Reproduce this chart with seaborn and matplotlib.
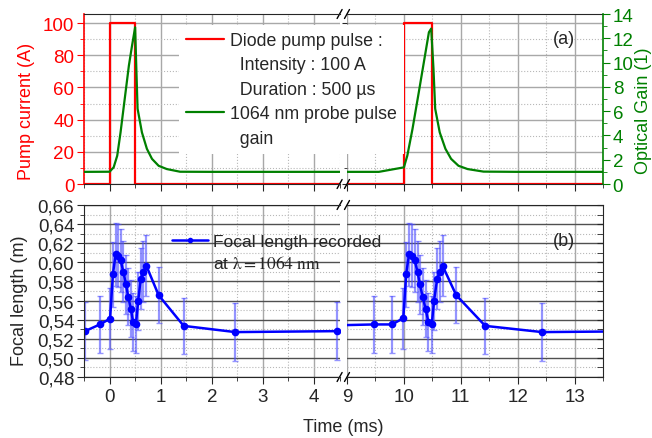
import matplotlib
matplotlib.use("Agg")
import matplotlib.pyplot as plt
from matplotlib.ticker import MultipleLocator, FuncFormatter, FixedLocator
from matplotlib.lines import Line2D
import seaborn as sns

sns.set_style("ticks")
plt.rcParams['font.family'] = ['Liberation Sans', 'DejaVu Sans']
plt.rcParams['mathtext.fontset'] = 'stix'

# --- data (time in ms) ---
pump_t = [-0.5, 0.0, 0.0, 0.5, 0.5, 10.0, 10.0, 10.5, 10.5, 13.5]
pump_i = [0, 0, 100, 100, 0, 0, 100, 100, 0, 0]

gain_t = [-0.5, 0.0, 0.08, 0.15, 0.215, 0.28, 0.378, 0.44, 0.5, 0.522, 0.548,
          0.633, 0.73, 0.83, 0.96, 1.12, 1.38, 2.0, 4.5,
          9.0, 9.56, 10.0, 10.06, 10.15, 10.26, 10.35, 10.44, 10.48, 10.52,
          10.55, 10.63, 10.73, 10.83, 10.96, 11.12, 11.4, 12.0, 13.5]
gain_g = [1.0, 1.01, 1.37, 2.33, 4.25, 6.45, 9.75, 11.4, 12.9, 9.75, 6.2,
          4.25, 2.9, 2.07, 1.5, 1.23, 1.01, 1.0, 1.0,
          1.0, 1.0, 1.37, 2.33, 4.5, 7.5, 10.0, 12.5, 12.8, 9.5,
          6.2, 4.25, 2.9, 2.07, 1.5, 1.23, 1.02, 1.0, 1.0]

focal_t = [-0.48, -0.19, 0.01, 0.065, 0.12, 0.17, 0.215, 0.27, 0.32, 0.365,
           0.415, 0.46, 0.515, 0.56, 0.61, 0.66, 0.72, 0.96, 1.45, 2.46, 4.45,
           9.47, 9.79, 9.99, 10.04, 10.09, 10.135, 10.19, 10.24, 10.28, 10.33,
           10.38, 10.43, 10.49, 10.53, 10.585, 10.63, 10.68, 10.92, 11.43,
           12.43, 14.4]
focal_f = [0.528, 0.535, 0.541, 0.5876, 0.6086, 0.607, 0.6023, 0.590, 0.577,
           0.564, 0.5516, 0.5377, 0.535, 0.5597, 0.583, 0.590, 0.5964, 0.5656,
           0.5335, 0.527, 0.528,
           0.535, 0.535, 0.5415, 0.5876, 0.6086, 0.607, 0.602, 0.590, 0.577,
           0.564, 0.5516, 0.5377, 0.535, 0.5597, 0.583, 0.590, 0.5964, 0.5656,
           0.5335, 0.527, 0.528]
focal_err = [0.03, 0.03, 0.032, 0.034, 0.033, 0.033, 0.033, 0.032, 0.031,
             0.03, 0.03, 0.03, 0.03, 0.03, 0.032, 0.032, 0.032, 0.029, 0.029,
             0.03, 0.03,
             0.03, 0.03, 0.032, 0.034, 0.033, 0.033, 0.033, 0.032, 0.031,
             0.03, 0.03, 0.03, 0.03, 0.03, 0.032, 0.032, 0.032, 0.029, 0.029,
             0.03, 0.03]

W, H = 652, 439
fig = plt.figure(figsize=(W / 100, H / 100), dpi=100)


def rect(x0, x1, y0, y1):
    return [x0 / W, 1 - y1 / H, (x1 - x0) / W, (y1 - y0) / H]


segs = [(-0.5, 4.5, 84, 339.6, [0, 1, 2, 3, 4]),
        (9.0, 13.5, 347, 603, [9, 10, 11, 12, 13])]
TOP = (15, 185)
BOT = (206, 378)
FS = 13.5
red, green, blue = '#ff0000', '#008000', '#0000ff'


def grid(ax, hcol):
    ax.grid(True, which='major', axis='y', color=hcol, lw=1.0, ls='-')
    ax.grid(True, which='major', axis='x', color='#a8a8a8', lw=1.0, ls='-')
    ax.grid(True, which='minor', color='#b8b8b8', lw=0.8, ls=':')
    ax.set_axisbelow(True)


def breaks(ax, side, h_px):
    x = 1.0 if side == 'right' else 0.0
    dx = 2.5 / 256
    dy = 4.5 / h_px
    for y in (0, 1):
        ax.plot([x - dx, x + dx], [y - dy, y + dy], color='k', lw=1.0,
                transform=ax.transAxes, clip_on=False)


for k, (x0, x1, p0, p1, ticks) in enumerate(segs):
    side = 'right' if k == 0 else 'left'

    # ---- top panel: pump current + optical gain ----
    ax = fig.add_axes(rect(p0, p1, *TOP))
    sns.lineplot(x=pump_t, y=pump_i, ax=ax, color=red, lw=1.6,
                 estimator=None, sort=False, errorbar=None)
    ax.set_xlim(x0, x1)
    ax.set_ylim(0, 105.6)
    ax.xaxis.set_major_locator(FixedLocator(ticks))
    ax.xaxis.set_minor_locator(MultipleLocator(0.5))
    ax.yaxis.set_major_locator(MultipleLocator(20))
    ax.yaxis.set_minor_locator(MultipleLocator(10))
    grid(ax, '#a8a8a8')
    ax.tick_params(axis='x', which='both', direction='out', labelbottom=False)
    ax.tick_params(axis='x', which='major', length=5)
    ax.tick_params(axis='x', which='minor', length=3)
    ax.spines['right'].set_visible(False)
    if k == 0:
        ax.spines['left'].set_color(red)
        ax.spines['left'].set_linewidth(1.2)
        ax.tick_params(axis='y', which='both', colors=red, labelsize=FS,
                       direction='out', pad=2)
        ax.tick_params(axis='y', which='major', length=5)
        ax.tick_params(axis='y', which='minor', length=3)
    else:
        ax.spines['left'].set_visible(False)
        ax.tick_params(axis='y', which='both', left=False, labelleft=False)

    tw = ax.twinx()
    sns.lineplot(x=gain_t, y=gain_g, ax=tw, color=green, lw=1.6,
                 estimator=None, sort=False, errorbar=None)
    tw.set_xlim(x0, x1)
    tw.set_ylim(0, 14)
    tw.set_ylabel('')
    tw.yaxis.set_major_locator(MultipleLocator(2))
    tw.yaxis.set_minor_locator(MultipleLocator(1))
    for s in ('top', 'bottom', 'left'):
        tw.spines[s].set_visible(False)
    if k == 1:
        tw.spines['right'].set_color(green)
        tw.spines['right'].set_linewidth(1.2)
        tw.tick_params(axis='y', which='both', colors=green, labelsize=FS,
                       direction='out', pad=2)
        tw.tick_params(axis='y', which='major', length=5)
        tw.tick_params(axis='y', which='minor', length=3)
    else:
        tw.spines['right'].set_visible(False)
        tw.tick_params(axis='y', which='both', right=False, labelright=False)
    breaks(ax, side, TOP[1] - TOP[0])

    # ---- bottom panel: focal length ----
    bx = fig.add_axes(rect(p0, p1, *BOT))
    bx.errorbar(focal_t, focal_f, yerr=focal_err, fmt='none',
                ecolor=(0.3, 0.3, 1.0, 0.6), elinewidth=1.6, capsize=2.5,
                capthick=1.0)
    sns.lineplot(x=focal_t, y=focal_f, ax=bx, color=blue, lw=1.8,
                 marker='o', markersize=5.5, markeredgewidth=0,
                 estimator=None, sort=False, errorbar=None)
    bx.set_xlim(x0, x1)
    bx.set_ylim(0.48, 0.66)
    bx.xaxis.set_major_locator(FixedLocator(ticks))
    bx.xaxis.set_minor_locator(MultipleLocator(0.5))
    bx.yaxis.set_major_locator(MultipleLocator(0.02))
    bx.yaxis.set_minor_locator(MultipleLocator(0.01))
    bx.yaxis.set_major_formatter(
        FuncFormatter(lambda v, p: f"{v:.2f}".replace('.', ',')))
    grid(bx, '#505050')
    bx.tick_params(axis='x', which='both', direction='out', labelsize=FS,
                   pad=3)
    bx.tick_params(axis='x', which='major', length=5)
    bx.tick_params(axis='x', which='minor', length=3)
    if k == 0:
        bx.spines['right'].set_visible(False)
        bx.tick_params(axis='y', which='both', direction='out', labelsize=FS,
                       pad=2)
        bx.tick_params(axis='y', which='major', length=5)
        bx.tick_params(axis='y', which='minor', length=3)
    else:
        bx.spines['left'].set_visible(False)
        bx.yaxis.tick_right()
        bx.tick_params(axis='y', which='both', direction='in',
                       labelright=False, length=4)
    breaks(bx, side, BOT[1] - BOT[0])

# labels
fig.text(27 / W, 1 - 111 / H, 'Pump current (A)', rotation=90, color=red,
         ha='center', va='center', fontsize=13)
fig.text(644 / W, 1 - 111 / H, 'Optical Gain (1)', rotation=90, color=green,
         ha='center', va='center', fontsize=13)
fig.text(20 / W, 1 - 301 / H, 'Focal length (m)', rotation=90,
         ha='center', va='center', fontsize=13)
fig.text(343 / W, 1 - 428 / H, 'Time (ms)', ha='center', va='center',
         fontsize=13)
fig.text(564 / W, 1 - 40 / H, '(a)', ha='center', va='center', fontsize=13)
fig.text(564 / W, 1 - 242 / H, '(b)', ha='center', va='center', fontsize=13)

# legends (continuation lines get an invisible handle)
blank = Line2D([], [], color='none')
h_top = [Line2D([], [], color=red, lw=1.6), blank, blank,
         Line2D([], [], color=green, lw=1.6), blank]
lab_top = ['Diode pump pulse :', '  Intensity : 100 A', '  Duration : 500 µs',
           '1064 nm probe pulse', '  gain']
fig.legend(h_top, lab_top, loc='upper left',
           bbox_to_anchor=(170 / W, 1 - 17 / H), fontsize=12.8,
           frameon=True, facecolor='white', edgecolor='none',
           framealpha=1, fancybox=False, handlelength=2.15,
           handletextpad=0.3, labelspacing=0.42, borderpad=0.4)

h_bot = [Line2D([], [], color=blue, lw=1.8, marker='o', markersize=4,
                markeredgewidth=0), blank]
fig.legend(h_bot, ['Focal length recorded', 'at $\\mathrm{\\lambda = 1064\\ nm}$'],
           loc='upper left', bbox_to_anchor=(156 / W, 1 - 219 / H),
           fontsize=12.5, frameon=False, handlelength=2.1, handletextpad=0.3,
           labelspacing=0.3, borderpad=0.4)

fig.savefig('out.png', dpi=100)
